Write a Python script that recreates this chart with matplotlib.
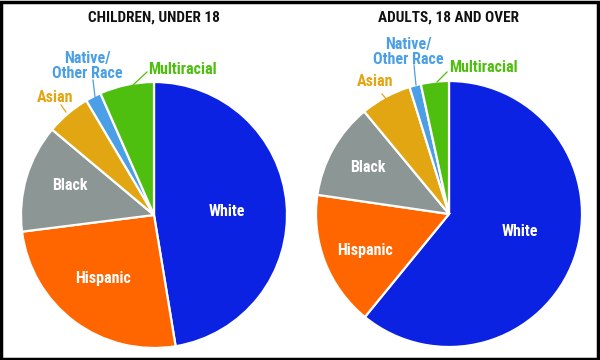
import matplotlib.pyplot as plt
from matplotlib.patches import Rectangle

groups = ['White', 'Hispanic', 'Black', 'Asian', 'Native/\nOther Race', 'Multiracial']
children = [47.4, 25.6, 13.1, 5.4, 1.9, 6.6]
adults = [60.9, 16.4, 11.7, 6.2, 1.4, 3.4]
titles = ['CHILDREN, UNDER 18', 'ADULTS, 18 AND OVER']
colors = ['#0c22e2', '#ff6600', '#8c9694', '#e2a612', '#4a9fe6', '#4fbf0f']

font = ['Roboto Condensed', 'DejaVu Sans']

fig = plt.figure(figsize=(6, 3.6), dpi=100)
ax = fig.add_axes([0, 0, 1, 1])

centers = [(154, 145), (449, 146)]
for vals, c in zip([children, adults], centers):
    ax.pie(vals, colors=colors, startangle=90, counterclock=False,
           center=c, radius=133, frame=True,
           wedgeprops=dict(edgecolor='white', linewidth=1.6))
ax.set_xlim(0, 600)
ax.set_ylim(0, 360)
ax.set_aspect('equal')
ax.axis('off')

for t, x in zip(titles, [154, 449]):
    ax.text(x, 342, t, ha='center', va='center', fontsize=11,
            fontweight='bold', family=font, color='#111111')

# labels inside wedges (white) and outside (coloured)
inner = [
    [(227, 148), (103, 82), (70, 174)],
    [(520, 128), (365, 110), (368, 193)],
]
outer = [
    [(55, 263), (87, 294), (182, 291)],
    [(375, 279), (408, 308), (483, 293)],
]
lines = [
    [((61, 255), (66, 248)), ((93, 280), (95, 263)), ((147, 288), (133, 275))],
    [((382, 266), (387, 260)), ((414, 295), (416, 275)), ((447, 288), (437, 278))],
]
for k in range(2):
    for i in range(3):
        ax.text(*inner[k][i], groups[i], ha='center', va='center', fontsize=11.5,
                fontweight='bold', family=font, color='white')
        ax.text(*outer[k][i], groups[i + 3], ha='center', va='center',
                fontsize=11.5, fontweight='bold', family=font,
                color=colors[i + 3], linespacing=0.95)
        (x0, y0), (x1, y1) = lines[k][i]
        ax.plot([x0, x1], [y0, y1], color=colors[i + 3], lw=0.9)

ax.add_patch(Rectangle((1, 1), 597, 357, fill=False, edgecolor='black',
                       linewidth=2.5, clip_on=False))

fig.savefig('out.png', dpi=100)
